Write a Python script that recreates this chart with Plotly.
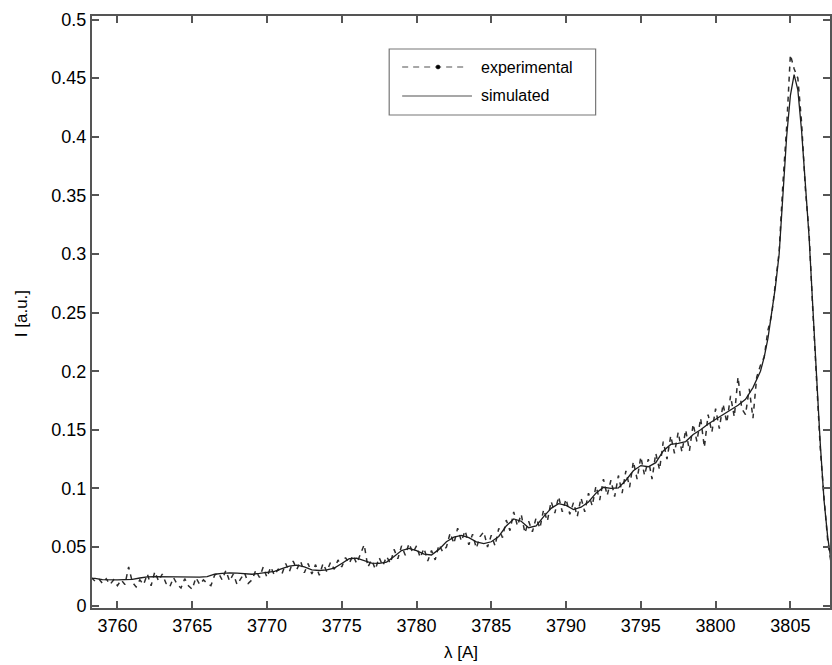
import plotly.graph_objects as go

# Simulated emission profile (wavelength in Angstrom, intensity in a.u.)
sim_wl = [3758.0, 3758.5, 3759.0, 3759.5, 3760.0, 3760.5, 3761.0, 3761.5, 3762.0, 3762.5,
          3763.0, 3763.5, 3764.0, 3764.5, 3765.0, 3765.5, 3766.0, 3766.5, 3767.0, 3767.5,
          3768.0, 3768.5, 3769.0, 3769.5, 3770.0, 3770.5, 3771.0, 3771.5, 3772.0, 3772.5,
          3773.0, 3773.5, 3774.0, 3774.5, 3775.0, 3775.5, 3776.0, 3776.5, 3777.0, 3777.5,
          3778.0, 3778.5, 3779.0, 3779.5, 3780.0, 3780.5, 3781.0, 3781.5, 3782.0, 3782.5,
          3783.0, 3783.5, 3784.0, 3784.5, 3785.0, 3785.5, 3786.0, 3786.5, 3787.0, 3787.5,
          3788.0, 3788.5, 3789.0, 3789.5, 3790.0, 3790.5, 3791.0, 3791.5, 3792.0, 3792.5,
          3793.0, 3793.5, 3794.0, 3794.5, 3795.0, 3795.5, 3796.0, 3796.5, 3797.0, 3797.5,
          3798.0, 3798.5, 3799.0, 3799.5, 3800.0, 3800.5, 3801.0, 3801.5, 3802.0, 3802.5,
          3803.0, 3803.25, 3803.5, 3803.75, 3804.0, 3804.25, 3804.5, 3804.75, 3805.0, 3805.25,
          3805.5, 3805.75, 3806.0, 3806.25, 3806.5, 3806.75, 3807.0, 3807.25, 3807.5, 3807.75]
sim_int = [0.0235, 0.0232, 0.0222, 0.0218, 0.0220, 0.0222, 0.0224, 0.0236, 0.0246, 0.0248,
           0.0247, 0.0246, 0.0242, 0.0240, 0.0241, 0.0244, 0.0248, 0.0268, 0.0276, 0.0280,
           0.0277, 0.0270, 0.0268, 0.0275, 0.0282, 0.0292, 0.0315, 0.0338, 0.0346, 0.0330,
           0.0305, 0.0300, 0.0305, 0.0320, 0.0360, 0.0400, 0.0405, 0.0385, 0.0362, 0.0360,
           0.0372, 0.0420, 0.0470, 0.0488, 0.0470, 0.0440, 0.0432, 0.0480, 0.0545, 0.0585,
           0.0600, 0.0580, 0.0545, 0.0530, 0.0545, 0.0590, 0.0680, 0.0740, 0.0720, 0.0665,
           0.0680, 0.0760, 0.0830, 0.0870, 0.0855, 0.0820, 0.0840, 0.0885, 0.0960, 0.1010,
           0.1000, 0.1005, 0.1070, 0.1150, 0.1195, 0.1185, 0.1220, 0.1320, 0.1375, 0.1385,
           0.1400, 0.1460, 0.1500, 0.1550, 0.1590, 0.1630, 0.1670, 0.1710, 0.1760, 0.1860,
           0.2000, 0.2120, 0.2280, 0.2500, 0.2720, 0.3000, 0.3550, 0.4000, 0.4350, 0.4530,
           0.4400, 0.4050, 0.3600, 0.3150, 0.2550, 0.1950, 0.1380, 0.0900, 0.0580, 0.0360]

# Measured spectrum, sampled every 0.25 A starting at 3758.25 A (one row per Angstrom)
exp_start, exp_step = 3758.25, 0.25
exp_int = [
    0.024, 0.021, 0.023,
    0.019, 0.023, 0.018, 0.022,
    0.017, 0.022, 0.018, 0.033,
    0.020, 0.016, 0.022, 0.018,
    0.027, 0.017, 0.029, 0.021,
    0.027, 0.019, 0.016, 0.024,
    0.018, 0.015, 0.023, 0.017,
    0.014, 0.024, 0.018, 0.022,
    0.019, 0.017, 0.026, 0.028,
    0.022, 0.030, 0.021, 0.027,
    0.018, 0.023, 0.028, 0.019,
    0.022, 0.030, 0.024, 0.033,
    0.024, 0.033, 0.026, 0.031,
    0.027, 0.036, 0.029, 0.038,
    0.031, 0.038, 0.028, 0.036,
    0.027, 0.035, 0.026, 0.036,
    0.029, 0.037, 0.031, 0.039,
    0.033, 0.041, 0.036, 0.043,
    0.036, 0.044, 0.052, 0.033,
    0.039, 0.031, 0.041, 0.034,
    0.042, 0.036, 0.048, 0.040,
    0.051, 0.043, 0.053, 0.045,
    0.051, 0.041, 0.049, 0.038,
    0.047, 0.039, 0.052, 0.046,
    0.050, 0.062, 0.053, 0.066,
    0.055, 0.064, 0.052, 0.061,
    0.049, 0.059, 0.063, 0.050,
    0.060, 0.051, 0.066, 0.058,
    0.073, 0.064, 0.080, 0.068,
    0.078, 0.062, 0.072, 0.063,
    0.075, 0.066, 0.082, 0.072,
    0.089, 0.079, 0.093, 0.080,
    0.091, 0.078, 0.088, 0.076,
    0.092, 0.080, 0.096, 0.085,
    0.102, 0.090, 0.108, 0.094,
    0.107, 0.093, 0.111, 0.096,
    0.115, 0.101, 0.123, 0.108,
    0.127, 0.111, 0.125, 0.108,
    0.130, 0.116, 0.140, 0.125,
    0.145, 0.130, 0.148, 0.131,
    0.150, 0.132, 0.155, 0.140,
    0.160, 0.135, 0.163, 0.148,
    0.168, 0.151, 0.172, 0.156,
    0.179, 0.161, 0.195, 0.168,
    0.163, 0.185, 0.160, 0.195,
    0.205, 0.212, 0.235, 0.248,
    0.278, 0.302, 0.360, 0.408,
    0.470, 0.458, 0.450, 0.412,
    0.356, 0.318, 0.252, 0.197,
    0.134, 0.092, 0.055, 0.034,
]
exp_wl = [round(exp_start + i * exp_step, 2) for i in range(len(exp_int))]

x_ticks = [3760, 3765, 3770, 3775, 3780, 3785, 3790, 3795, 3800, 3805]
y_ticks = [0, 0.05, 0.1, 0.15, 0.2, 0.25, 0.3, 0.35, 0.4, 0.45, 0.5]
y_tick_text = ["0", "0.05", "0.1", "0.15", "0.2", "0.25", "0.3", "0.35", "0.4", "0.45", "0.5"]

FONT = "Liberation Sans, Arial, Helvetica, sans-serif"
AXIS_COLOR = "#555555"

fig = go.Figure()
fig.add_trace(go.Scatter(
    x=exp_wl, y=exp_int, mode="lines", name="experimental",
    line=dict(color="#2e2e2e", width=1.5, dash="5px,5px"),
    showlegend=False,
))
fig.add_trace(go.Scatter(
    x=sim_wl, y=sim_int, mode="lines", name="simulated",
    line=dict(color="#1e1e1e", width=1.3),
    showlegend=False,
))

# plot area in pixels: left 92, right 832, top 16, bottom 608
L, R, T, B = 92, 832, 16, 608
W, H = R - L, B - T


def px(xp):
    return (xp - L) / W


def py(yp):
    return (B - yp) / H


# legend box drawn by hand
shapes = [
    dict(type="rect", xref="paper", yref="paper", x0=px(390), x1=px(597), y0=py(115), y1=py(49),
         line=dict(color="#777777", width=1.2), fillcolor="white", layer="above"),
    dict(type="line", xref="paper", yref="paper", x0=px(403), x1=px(468), y0=py(67), y1=py(67),
         line=dict(color="#8a8a8a", width=1.3, dash="6px,5px"), layer="above"),
    dict(type="circle", xref="paper", yref="paper", x0=px(437), x1=px(441), y0=py(69), y1=py(65),
         line=dict(color="black", width=0.5), fillcolor="black", layer="above"),
    dict(type="line", xref="paper", yref="paper", x0=px(403), x1=px(473), y0=py(96), y1=py(96),
         line=dict(color="#8a8a8a", width=1.3), layer="above"),
]

annotations = [
    dict(text="experimental", xref="paper", yref="paper", x=px(480), y=py(67), xanchor="left",
         yanchor="middle", showarrow=False, font=dict(family=FONT, size=16, color="black")),
    dict(text="simulated", xref="paper", yref="paper", x=px(480), y=py(96), xanchor="left",
         yanchor="middle", showarrow=False, font=dict(family=FONT, size=16, color="black")),
    dict(text="λ [A]", xref="paper", yref="paper", x=0.5, y=py(652), xanchor="center",
         yanchor="middle", showarrow=False, font=dict(family=FONT, size=17, color="black")),
    dict(text="I [a.u.]", xref="paper", yref="paper", x=px(21), y=py(314), xanchor="center",
         yanchor="middle", textangle=-90, showarrow=False,
         font=dict(family=FONT, size=17, color="black")),
]

fig.update_layout(
    width=832, height=665,
    margin=dict(l=L, r=832 - R, t=T, b=665 - B),
    paper_bgcolor="white", plot_bgcolor="white",
    font=dict(family=FONT, size=18, color="black"),
    shapes=shapes, annotations=annotations,
    showlegend=False,
)
fig.update_xaxes(
    range=[3758.3, 3807.65], tickvals=x_ticks, ticks="inside", ticklen=7, tickwidth=1.5,
    tickcolor=AXIS_COLOR, showline=True, linecolor=AXIS_COLOR, linewidth=2, mirror="ticks",
    showgrid=False, zeroline=False, tickfont=dict(size=18),
)
fig.update_yaxes(
    range=[-0.002, 0.503], tickvals=y_ticks, ticktext=y_tick_text, ticks="inside", ticklen=7,
    tickwidth=1.5, tickcolor=AXIS_COLOR, showline=True, linecolor=AXIS_COLOR, linewidth=2,
    mirror="ticks", showgrid=False, zeroline=False, tickfont=dict(size=18),
)

fig.write_html("out.html")
